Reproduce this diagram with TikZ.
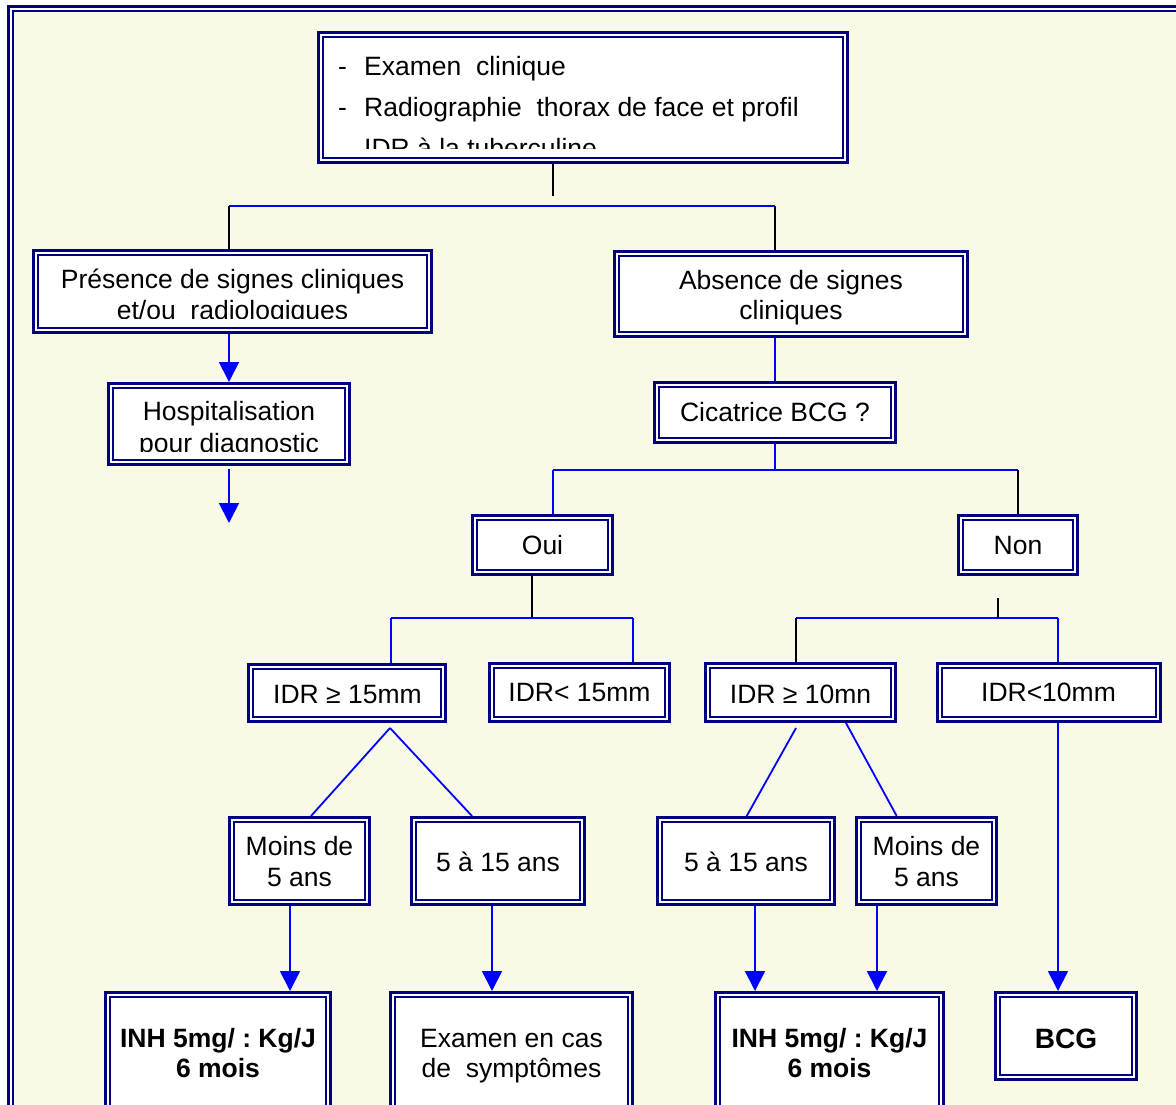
\documentclass[tikz,border=0pt]{standalone}
\usepackage{fontspec}
\setmainfont{Liberation Sans}
\usetikzlibrary{arrows.meta}
\definecolor{navy}{RGB}{0,0,128}
\definecolor{bgy}{RGB}{248,249,230}
\definecolor{lblue}{RGB}{0,0,255}
\newcommand{\mkbox}[5]{\node[box, minimum width={#4-#2-7.2}, minimum height={#5-#3-7.2}] (#1) at ({(#2+#4)/2},{(#3+#5)/2}) {};}
\frenchspacing
\begin{document}
\begin{tikzpicture}[x=1pt,y=-1pt,
  box/.style={rectangle, draw=navy, line width=2.6pt, double=white, double distance=2pt, fill=white, inner sep=0pt, outer sep=3.6pt},
  txt/.style={inner sep=0pt, anchor=base, font=\fontsize{26.5}{31}\selectfont},
  btxt/.style={inner sep=0pt, anchor=base, font=\fontsize{26.5}{31}\selectfont\bfseries},
  bl/.style={draw=lblue, line width=1.8pt},
  bk/.style={draw=black, line width=1.5pt},
  arr/.style={bl, -{Triangle[width=20pt,length=20pt]}, fill=lblue}]
\useasboundingbox (0,0) rectangle (1176,1104);
\clip (0,0) rectangle (1176,1104);
\fill[white] (0,0) rectangle (1176,1104);
\draw[navy, line width=2.3pt, double=white, double distance=2.2pt, fill=bgy] (10.6,8.7) rectangle (1195,1130);

% boxes
\mkbox{top}{317}{31}{849}{164}
\mkbox{pres}{32}{249}{433}{334}
\mkbox{abs}{613}{250}{969}{338}
\mkbox{hosp}{107}{382}{351}{466}
\mkbox{cic}{653}{381}{897}{444}
\mkbox{oui}{471}{514}{614}{576}
\mkbox{non}{957}{514}{1079}{576}
\mkbox{ia}{247}{663}{447}{723}
\mkbox{ib}{488}{662}{671}{723}
\mkbox{ic}{704}{662}{897}{723}
\mkbox{id}{936}{662}{1162}{723}
\mkbox{ma}{228}{816}{371}{906}
\mkbox{aa}{410}{816}{586}{906}
\mkbox{ab}{656}{816}{836}{906}
\mkbox{mb}{855}{816}{998}{906}
\mkbox{ra}{104}{991}{332}{1118}
\mkbox{ex}{389}{991}{634}{1118}
\mkbox{rb}{714}{991}{945}{1118}
\mkbox{bcg}{994}{991}{1138}{1081}

% texts
\begin{scope}
\clip (317,31) rectangle (849,148);
\node[txt, anchor=base west] (t1) at (338,75) {\makebox[26pt][l]{-}Examen\ \ clinique};
\node[txt, anchor=base west] (t2) at (338,116) {\makebox[26pt][l]{-}Radiographie\ \ thorax de face et profil};
\node[txt, anchor=base west] (t3) at (364,157) {IDR à la tuberculine};
\end{scope}
\begin{scope}
\clip (32,249) rectangle (433,318);
\node[txt] (p1) at (232.5,288) {Présence de signes cliniques};
\node[txt] (p2) at (232.5,319.5) {et/ou\ \ radiologiques};
\end{scope}
\begin{scope}
\clip (107,382) rectangle (351,451);
\node[txt] (h1) at (229,420) {Hospitalisation};
\node[txt] (h2) at (229,452) {pour diagnostic};
\end{scope}
\node[txt] (a1) at (791,289) {Absence de signes};
\node[txt] (a2) at (791,319) {cliniques};
\node[txt] (c1t) at (775,421) {Cicatrice BCG ?};
\node[txt] (o1t) at (542.5,554) {Oui};
\node[txt] (n1t) at (1018,554) {Non};
\node[txt] (iat) at (347.5,703) {IDR ≥ 15mm};
\node[txt] (ibt) at (579.5,701) {IDR< 15mm};
\node[txt] (ict) at (800.5,703) {IDR ≥ 10mn};
\node[txt] (idt) at (1048.5,701) {IDR<10mm};
\node[txt] (ma1) at (299.5,855) {Moins de};
\node[txt] (ma2) at (299.5,886) {5 ans};
\node[txt] (aat) at (498,871) {5 à 15 ans};
\node[txt] (abt) at (746,871) {5 à 15 ans};
\node[txt] (mb1) at (926.5,855) {Moins de};
\node[txt] (mb2) at (926.5,886) {5 ans};
\node[btxt] (ra1) at (218,1047) {INH 5mg/ : Kg/J};
\node[btxt] (ra2) at (218,1077) {6 mois};
\node[txt] (ex1) at (511.5,1047) {Examen en cas};
\node[txt] (ex2) at (511.5,1077) {de\ \ symptômes};
\node[btxt] (rb1) at (829.5,1047) {INH 5mg/ : Kg/J};
\node[btxt] (rb2) at (829.5,1077) {6 mois};
\node[inner sep=0pt, anchor=base, font=\fontsize{28}{32}\selectfont\bfseries] (bcgt) at (1066,1048) {BCG};

% junction coordinates
\coordinate (j0) at (553,196);
\coordinate (jL) at (229,206);
\coordinate (jR) at (775,206);
\coordinate (hend) at (229,523);
\coordinate (c1) at (775,470);
\coordinate (cL) at (553,470);
\coordinate (cR) at (1018,470);
\coordinate (oJ) at (532,618);
\coordinate (oL) at (391,618);
\coordinate (oR) at (633,618);
\coordinate (n0) at (998,598);
\coordinate (nJ) at (998,618);
\coordinate (nL) at (796,618);
\coordinate (nR) at (1058,618);
\coordinate (dA) at (390,728);
\coordinate (dB) at (796,728);
\coordinate (dC) at (846,723);
\coordinate (xA) at (290,0);
\coordinate (xB) at (492,0);
\coordinate (xC) at (755,0);
\coordinate (xD) at (877,0);

% connectors
\draw[bk] (j0 |- top.south) -- (j0);
\draw[bl] (jL) -- (jR);
\draw[bk] (jL) -- (jL |- pres.north);
\draw[bk] (jR) -- (jR |- abs.north);
\draw[arr] (jL |- pres.south) -- (jL |- hosp.north);
\draw[arr] ([yshift=-3pt]jL |- hosp.south) -- (hend);
\draw[bl] (abs.south -| c1) -- (cic.north);
\draw[bl] (cic.south) -- (c1);
\draw[bl] (cL) -- (cR);
\draw[bl] (cL) -- (cL |- oui.north);
\draw[bk] (cR) -- (cR |- non.north);
\draw[bk] (oJ |- oui.south) -- (oJ);
\draw[bl] (oL) -- (oR);
\draw[bl] (oL) -- (oL |- ia.north);
\draw[bl] (oR) -- (oR |- ib.north);
\draw[bk] (n0) -- (nJ);
\draw[bl] (nL) -- (nR);
\draw[bk] (nL) -- (nL |- ic.north);
\draw[bl] (nR) -- (nR |- id.north);
\draw[bl] (dA) -- ([xshift=11.5pt]ma.north);
\draw[bl] (dA) -- ([xshift=-26pt]aa.north);
\draw[bl] (dB) -- ([xshift=0.7pt]ab.north);
\draw[bl] (dC) -- ([xshift=-29.8pt]mb.north);
\draw[arr] (xA |- ma.south) -- (xA |- ra.north);
\draw[arr] (xB |- aa.south) -- (xB |- ex.north);
\draw[arr] (xC |- ab.south) -- (xC |- rb.north);
\draw[arr] (xD |- mb.south) -- (xD |- rb.north);
\draw[arr] (nR |- id.south) -- (nR |- bcg.north);
\end{tikzpicture}
\end{document}
